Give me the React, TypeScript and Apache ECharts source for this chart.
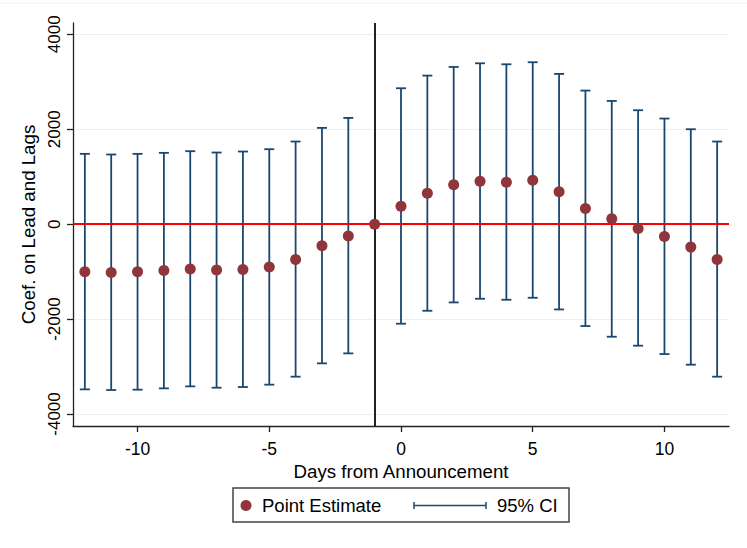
import React, { useEffect, useRef } from "react";
import * as echarts from "echarts";

const days = [-12, -11, -10, -9, -8, -7, -6, -5, -4, -3, -2, -1, 0, 1, 2, 3, 4, 5, 6, 7, 8, 9, 10, 11, 12];
const estimates = [-1004, -1018, -1004, -975, -947, -968, -954, -905, -744, -456, -248, 0, 379, 653, 828, 905, 884, 926, 681, 330, 112, -91, -260, -484, -744];
const lower: (number | null)[] = [-3481, -3495, -3488, -3460, -3418, -3446, -3432, -3382, -3214, -2933, -2723, null, -2098, -1825, -1649, -1572, -1593, -1551, -1797, -2147, -2372, -2561, -2737, -2961, -3214];
const upper: (number | null)[] = [1481, 1467, 1481, 1502, 1537, 1509, 1530, 1579, 1741, 2028, 2238, null, 2863, 3130, 3312, 3389, 3368, 3411, 3165, 2814, 2596, 2400, 2225, 2000, 1741];
const xTicks = [-10, -5, 0, 5, 10];
const yTicks = [-4000, -2000, 0, 2000, 4000];
const eventDay = -1;

const FONT = "'Liberation Sans', Arial, Helvetica, sans-serif";
const MAROON = "#90353b";
const NAVY = "#1a476f";

export default function App() {
  const ref = useRef<HTMLDivElement>(null);
  useEffect(() => {
    if (!ref.current) return;
    const chart = echarts.init(ref.current, undefined, { renderer: "svg" });
    const ciData = days
      .map((d, i) => (lower[i] == null ? null : [d, lower[i], upper[i]]))
      .filter((v) => v !== null);
    const pointData = days.map((d, i) => [d, estimates[i]]);
    chart.setOption({
      animation: false,
      backgroundColor: "#ffffff",
      textStyle: { fontFamily: FONT },
      grid: { left: 73, right: 18, top: 23, bottom: 122, containLabel: false },
      xAxis: {
        type: "value",
        min: -12.45,
        max: 12.45,
        name: "Days from Announcement",
        nameLocation: "middle",
        nameGap: 26.5,
        nameTextStyle: { fontSize: 18.7, color: "#000", fontFamily: FONT },
        axisLine: { show: true, onZero: false, lineStyle: { color: "#222", width: 1.3 } },
        axisTick: { show: true, customValues: xTicks, length: 6, lineStyle: { color: "#222", width: 1.3 } },
        axisLabel: { customValues: xTicks, fontSize: 17.5, color: "#000", margin: 13.5, fontFamily: FONT, formatter: (v: number) => String(v) },
        splitLine: { show: false },
      },
      yAxis: {
        type: "value",
        min: -4253,
        max: 4238,
        name: "Coef. on Lead and Lags",
        nameLocation: "middle",
        nameGap: 29,
        nameTextStyle: { fontSize: 18.7, color: "#000", fontFamily: FONT },
        axisLine: { show: true, onZero: false, lineStyle: { color: "#222", width: 1.3 } },
        axisTick: { show: true, customValues: yTicks, length: 6, lineStyle: { color: "#222", width: 1.3 } },
        axisLabel: { customValues: yTicks, rotate: 90, fontSize: 17, color: "#000", margin: 10, fontFamily: FONT, formatter: (v: number) => String(v) },
        splitLine: { show: false },
      },
      series: [
        {
          type: "line",
          data: [],
          z: 0,
          silent: true,
          markLine: {
            z: 0,
            silent: true,
            symbol: "none",
            label: { show: false },
            lineStyle: { color: "#e9f1f4", width: 1.2, type: "solid" },
            data: yTicks.filter((v) => v !== 0).map((v) => ({ yAxis: v })),
          },
        },
        {
          type: "custom",
          name: "95% CI",
          z: 1,
          data: ciData,
          encode: { x: 0, y: [1, 2] },
          renderItem: (params: any, api: any) => {
            const x = api.value(0);
            const lo = api.coord([x, api.value(1)]);
            const hi = api.coord([x, api.value(2)]);
            const hw = 5;
            const style = { stroke: NAVY, lineWidth: 1.8 };
            return {
              type: "group",
              children: [
                { type: "line", shape: { x1: lo[0], y1: lo[1], x2: hi[0], y2: hi[1] }, style },
                { type: "line", shape: { x1: hi[0] - hw, y1: hi[1], x2: hi[0] + hw, y2: hi[1] }, style },
                { type: "line", shape: { x1: lo[0] - hw, y1: lo[1], x2: lo[0] + hw, y2: lo[1] }, style },
              ],
            };
          },
        },
        {
          type: "line",
          data: [],
          z: 2,
          silent: true,
          markLine: {
            z: 2,
            silent: true,
            symbol: "none",
            label: { show: false },
            data: [
              { yAxis: 0, lineStyle: { color: "#ff0000", width: 2, type: "solid" } },
              { xAxis: eventDay, lineStyle: { color: "#222222", width: 2, type: "solid" } },
            ],
          },
        },
        {
          type: "scatter",
          name: "Point Estimate",
          z: 3,
          data: pointData,
          symbol: "circle",
          symbolSize: 11,
          itemStyle: { color: MAROON, opacity: 1 },
        },
      ],
      graphic: [
        { type: "line", shape: { x1: 0, y1: 3, x2: 747, y2: 3 }, style: { stroke: "#f0f0f0", lineWidth: 1 }, silent: true },
        {
          type: "rect",
          shape: { x: 233, y: 488, width: 336, height: 34 },
          style: { fill: "#ffffff", stroke: "#444444", lineWidth: 1.5 },
          silent: true,
        },
        { type: "circle", shape: { cx: 246, cy: 505.5, r: 5.5 }, style: { fill: MAROON }, silent: true },
        {
          type: "text",
          x: 262,
          y: 505,
          style: { text: "Point Estimate", fontSize: 18.5, fontFamily: FONT, fill: "#000", verticalAlign: "middle", align: "left" },
          silent: true,
        },
        { type: "line", shape: { x1: 414, y1: 505.5, x2: 486, y2: 505.5 }, style: { stroke: NAVY, lineWidth: 1.5 }, silent: true },
        { type: "line", shape: { x1: 414, y1: 502, x2: 414, y2: 509 }, style: { stroke: NAVY, lineWidth: 1.5 }, silent: true },
        { type: "line", shape: { x1: 486, y1: 502, x2: 486, y2: 509 }, style: { stroke: NAVY, lineWidth: 1.5 }, silent: true },
        {
          type: "text",
          x: 497,
          y: 505,
          style: { text: "95% CI", fontSize: 18.5, fontFamily: FONT, fill: "#000", verticalAlign: "middle", align: "left" },
          silent: true,
        },
      ],
    });
    return () => chart.dispose();
  }, []);
  return (
    <div
      ref={ref}
      style={{ position: "fixed", left: 0, top: 0, width: 747, height: 548, background: "#fff" }}
    />
  );
}
